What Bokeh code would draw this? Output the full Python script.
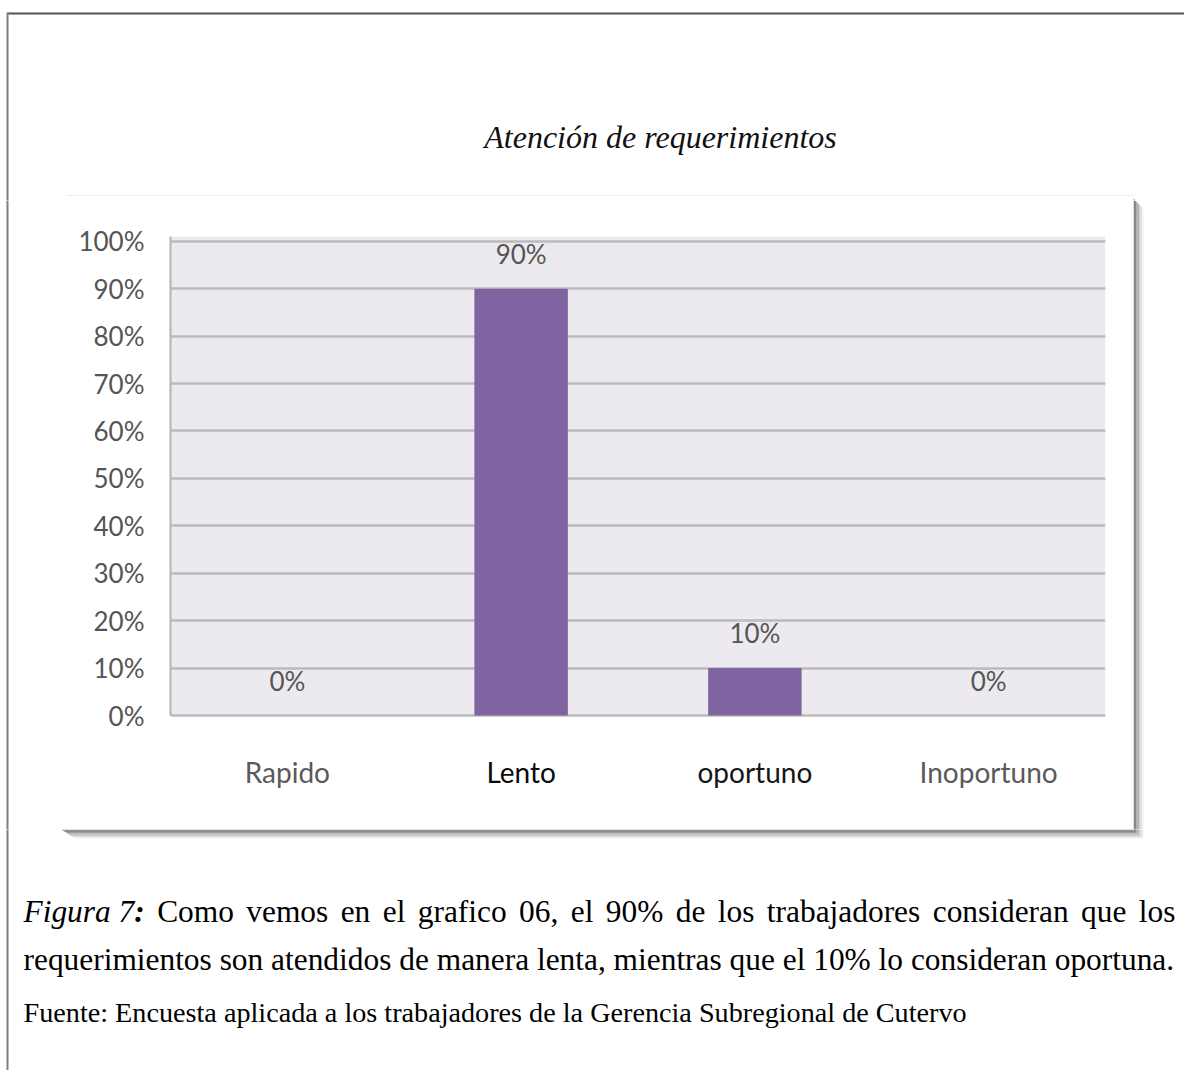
from bokeh.plotting import figure
from bokeh.layouts import column, row
from bokeh.models import (FactorRange, Range1d, ColumnDataSource, LabelSet, Label,
                          BoxAnnotation, FixedTicker, PrintfTickFormatter)
from bokeh.core.properties import value
from bokeh.embed import file_html
from bokeh.resources import INLINE

# ---------------- data ----------------
categories = ["Rapido", "Lento", "oportuno", "Inoportuno"]
percentages = [0, 90, 10, 0]
category_label_colors = ["#5a5a5a", "#0a0a0a", "#161616", "#5a5a5a"]
y_ticks = [0, 10, 20, 30, 40, 50, 60, 70, 80, 90, 100]

title_text = "Atención de requerimientos"
caption_lead = "Figura 7"
caption_line1 = "Como vemos en el grafico 06, el 90% de los trabajadores consideran que los"
caption_line2 = "requerimientos son atendidos de manera lenta, mientras que el 10% lo consideran oportuna."
source_text = "Fuente: Encuesta aplicada a los trabajadores de la Gerencia Subregional de Cutervo"

# ---------------- layout (page pixels) ----------------
W, H = 1184, 1070
HEADER_H = 200
PANEL_B = 829
LEFT_W = 60
PANEL_R = 1133
FRAME_L, FRAME_R, FRAME_T, FRAME_B = 170, 1105, 236, 715
Y_MAX = 101
Y_PER = (FRAME_B - FRAME_T) / Y_MAX

CHART_FONT = "Lato"
SERIF = "Liberation Serif"


def no_align(f):
    if "frame_align" in f.properties():
        f.frame_align = False
    return f


def canvas(x0, y0, w, h):
    f = figure(width=w, height=h, x_range=Range1d(x0, x0 + w),
               y_range=Range1d(y0 + h, y0),
               x_axis_location=None, y_axis_location=None, min_border=0,
               toolbar_location=None, output_backend="svg")
    f.xgrid.visible = False
    f.ygrid.visible = False
    f.outline_line_color = None
    f.background_fill_color = "white"
    f.border_fill_color = "white"
    return no_align(f)


header = canvas(0, 0, W, HEADER_H)
left_strip = canvas(0, HEADER_H, LEFT_W, PANEL_B - HEADER_H)
right_strip = canvas(PANEL_R, HEADER_H, W - PANEL_R, PANEL_B - HEADER_H)
footer = canvas(0, PANEL_B, W, H - PANEL_B)
canvases = [header, left_strip, right_strip, footer]

# ---------------- decorations: page border, panel edge, drop shadow ----------------
deco = dict(l=[], r=[], t=[], b=[], c=[])


def add_deco(l, r, t, b, c):
    deco["l"].append(l)
    deco["r"].append(r)
    deco["t"].append(t)
    deco["b"].append(b)
    deco["c"].append(c)


add_deco(7, W, 12, 14, "#555555")
add_deco(6, 8, 12, H, "#7f7f7f")
add_deco(66, PANEL_R, 194.5, 195.5, "#EEEEEE")
shades = ["#7a7a7a", "#888888", "#9c9c9c", "#b2b2b2", "#c9c9c9", "#dedede", "#efefef"]
for i, c in enumerate(shades):
    add_deco(PANEL_R + i * 1.4, PANEL_R + (i + 1) * 1.4, 199 + i * 1.5,
             PANEL_B + (i + 1) * 1.3, c)
    add_deco(62 + i * 2, PANEL_R + i * 1.4, PANEL_B + i * 1.3,
             PANEL_B + (i + 1) * 1.3, c)

for f in canvases:
    f.quad(left=deco["l"], right=deco["r"], top=deco["t"], bottom=deco["b"],
           fill_color=deco["c"], line_color=None)

# ---------------- title ----------------
header.add_layout(Label(x=660, y=136, text=title_text,
                        text_align="center", text_baseline="alphabetic",
                        text_font=SERIF, text_font_style="italic",
                        text_font_size="32px", text_color="#111111"))

# ---------------- chart ----------------
src = ColumnDataSource(dict(
    cat=categories,
    pct=percentages,
    pct_label=[f"{v}%" for v in percentages],
    cat_color=category_label_colors,
))

chart = figure(width=PANEL_R - LEFT_W, height=PANEL_B - HEADER_H,
               x_range=FactorRange(*categories, range_padding=0),
               y_range=Range1d(-(PANEL_B - FRAME_B) / Y_PER, Y_MAX),
               x_axis_location=None,
               output_backend="svg", toolbar_location=None,
               min_border_left=FRAME_L - LEFT_W, min_border_right=PANEL_R - FRAME_R,
               min_border_top=FRAME_T - HEADER_H, min_border_bottom=0)
no_align(chart)
chart.background_fill_color = "white"
chart.border_fill_color = "white"
chart.outline_line_color = None

# plot-area background (0 .. top)
chart.add_layout(BoxAnnotation(bottom=0, fill_color="#ECEAEF", fill_alpha=1.0,
                               line_color=None, level="image"))

chart.xgrid.grid_line_color = None
chart.ygrid.ticker = FixedTicker(ticks=y_ticks)
chart.ygrid.grid_line_color = "#BCBABF"
chart.ygrid.grid_line_width = 2.5

chart.yaxis.ticker = FixedTicker(ticks=y_ticks)
chart.yaxis.bounds = (0, Y_MAX)
chart.yaxis.formatter = PrintfTickFormatter(format="%d%%")
chart.yaxis.axis_line_color = "#B3B3B3"
chart.yaxis.axis_line_width = 2
chart.yaxis.major_tick_line_color = None
chart.yaxis.minor_tick_line_color = None
chart.yaxis.major_label_standoff = 20
chart.yaxis.major_label_text_font = CHART_FONT
chart.yaxis.major_label_text_font_size = "26px"
chart.yaxis.major_label_text_color = "#555555"

chart.vbar(x="cat", top="pct", width=0.4, source=src,
           fill_color="#8064A2", line_color=None)

chart.add_layout(LabelSet(x="cat", y="pct", text="pct_label", source=src,
                          y_offset=35, text_align="center", text_baseline="middle",
                          text_font=value(CHART_FONT), text_font_size=value("26px"),
                          text_color=value("#555555")))

chart.add_layout(LabelSet(x="cat", y=0, text="cat", source=src,
                          y_offset=-56, text_align="center", text_baseline="middle",
                          text_font=value(CHART_FONT), text_font_size=value("28px"),
                          text_color="cat_color"))

# ---------------- caption (justified first line) ----------------
TIMES = {' ': 250, 'a': 444, 'b': 500, 'c': 444, 'd': 500, 'e': 444, 'f': 333,
         'g': 500, 'i': 278, 'j': 278, 'l': 278, 'm': 778, 'n': 500, 'o': 500,
         'p': 500, 'q': 500, 'r': 333, 's': 389, 't': 278, 'u': 500, 'v': 500,
         'C': 667, '0': 500, '1': 500, '6': 500, '9': 500, '%': 833, ',': 250,
         '.': 250}
TIMES_I = {'F': 611, 'i': 278, 'g': 500, 'u': 500, 'r': 389, 'a': 500, ' ': 250,
           '7': 500}

CAP_SIZE = 31.4
CAP_L, CAP_R = 23, 1175
BASE1, BASE2, BASE3 = 911, 959, 1012


def tw(s, table, size):
    return sum(table.get(ch, 500) for ch in s) * size / 1000.0


def cap_label(x, y, text, style="normal", size=CAP_SIZE):
    footer.add_layout(Label(x=x, y=y, text=text, text_align="left",
                            text_baseline="alphabetic", text_font=SERIF,
                            text_font_style=style, text_font_size=f"{size}px",
                            text_color="black"))


lead_w = tw(caption_lead, TIMES_I, CAP_SIZE)
colon_w = 333 * CAP_SIZE / 1000.0
words = caption_line1.split(" ")
widths = [lead_w + colon_w] + [tw(w_, TIMES, CAP_SIZE) for w_ in words]
gap = (CAP_R - CAP_L - sum(widths)) / (len(widths) - 1)

cap_label(CAP_L, BASE1, caption_lead, "italic")
cap_label(CAP_L + lead_w, BASE1, ":", "bold italic")
xpos = CAP_L + widths[0] + gap
for w_, wd in zip(words, widths[1:]):
    cap_label(xpos, BASE1, w_)
    xpos += wd + gap

cap_label(CAP_L, BASE2, caption_line2)
cap_label(CAP_L, BASE3, source_text, size=28.2)

layout = column(header, row(left_strip, chart, right_strip), footer)

open("out.html", "w").write(file_html(layout, INLINE))
